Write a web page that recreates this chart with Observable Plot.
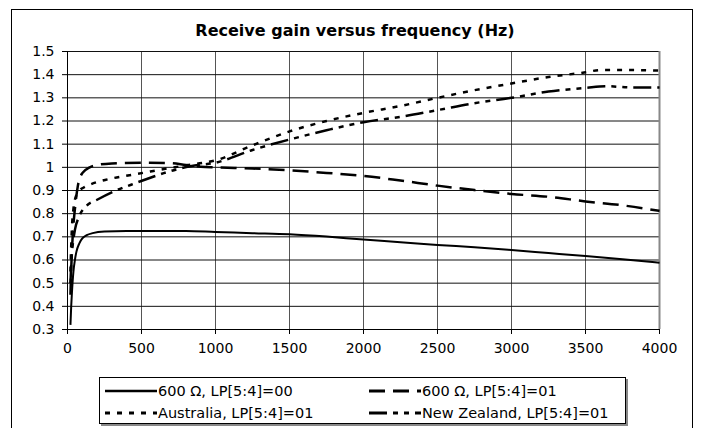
<!DOCTYPE html>
<html>
<head>
<meta charset="utf-8">
<script src="https://cdn.jsdelivr.net/npm/d3@7"></script>
<script src="https://cdn.jsdelivr.net/npm/@observablehq/plot@0.6"></script>
<style>
  html, body { margin: 0; padding: 0; background: #fff; }
  #wrap { position: relative; width: 702px; height: 428px; overflow: hidden; background: #fff; font-family: "DejaVu Sans", sans-serif; }
  #frame { position: absolute; left: 11px; top: 9px; width: 682px; height: 440px; border: 1px solid #000; box-sizing: border-box; }
  #title { position: absolute; left: 0; width: 710px; top: 21px; text-align: center; font-weight: bold; font-size: 16px; color: #000; }
  #chart { position: absolute; left: 0; top: 0; }
  #legend { position: absolute; left: 99px; top: 377px; width: 527px; height: 47px; border: 1px solid #000; box-sizing: border-box; background: #fff; box-shadow: 2px 2px 0 #888; font-size: 14.5px; color: #000; }
  .item { position: absolute; display: flex; align-items: center; height: 20px; white-space: nowrap; }
  .item svg { display: block; margin-right: 1px; }
</style>
</head>
<body>
<div id="wrap">
  <div id="frame"></div>
  <div id="chart"></div>
  <div id="title">Receive gain versus frequency (Hz)</div>
  <div id="legend"></div>
</div>
<script>
// ---- data ----
const seriesNames = ["600 Ω, LP[5:4]=00", "600 Ω, LP[5:4]=01", "Australia, LP[5:4]=01", "New Zealand, LP[5:4]=01"];

const freq600lp00 = [20, 25, 30, 40, 50, 60, 80, 100, 130, 170, 250, 400, 600, 800, 1000, 1250, 1500, 1750, 2000, 2250, 2500, 2750, 3000, 3250, 3500, 3750, 4000];
const gain600lp00 = [0.32, 0.40, 0.46, 0.55, 0.60, 0.635, 0.672, 0.693, 0.707, 0.716, 0.723, 0.725, 0.725, 0.725, 0.721, 0.716, 0.711, 0.701, 0.688, 0.677, 0.665, 0.655, 0.643, 0.63, 0.617, 0.603, 0.588];

const freq600lp01 = [20, 25, 30, 40, 50, 70, 100, 150, 200, 300, 500, 700, 800, 900, 1000, 1250, 1500, 1750, 2000, 2250, 2500, 2750, 3000, 3250, 3500, 3750, 4000];
const gain600lp01 = [0.45, 0.56, 0.64, 0.75, 0.82, 0.92, 0.975, 1.0, 1.01, 1.017, 1.02, 1.018, 1.01, 1.003, 1.0, 0.995, 0.987, 0.976, 0.963, 0.943, 0.921, 0.902, 0.885, 0.873, 0.853, 0.836, 0.812];

const freqAustralia = [20, 25, 30, 40, 50, 60, 80, 110, 150, 270, 440, 560, 700, 850, 1000, 1250, 1500, 1750, 2000, 2250, 2500, 2750, 3000, 3250, 3500, 3600, 3750, 4000];
const gainAustralia = [0.55, 0.66, 0.74, 0.82, 0.86, 0.88, 0.90, 0.913, 0.925, 0.948, 0.968, 0.982, 0.998, 1.013, 1.03, 1.095, 1.155, 1.2, 1.235, 1.265, 1.3, 1.333, 1.362, 1.39, 1.41, 1.42, 1.42, 1.418];

const freqNewZealand = [20, 25, 30, 40, 50, 80, 130, 200, 310, 430, 560, 650, 830, 1000, 1250, 1500, 1750, 2000, 2250, 2500, 2750, 3000, 3250, 3500, 3650, 3800, 4000];
const gainNewZealand = [0.5, 0.58, 0.63, 0.69, 0.73, 0.79, 0.835, 0.86, 0.895, 0.925, 0.955, 0.975, 1.005, 1.02, 1.075, 1.12, 1.16, 1.195, 1.218, 1.247, 1.277, 1.3, 1.327, 1.343, 1.35, 1.345, 1.345];

const xTicks = [0, 500, 1000, 1500, 2000, 2500, 3000, 3500, 4000];
const yTicks = [0.3, 0.4, 0.5, 0.6, 0.7, 0.8, 0.9, 1.0, 1.1, 1.2, 1.3, 1.4, 1.5];

// ---- styles ----
const styles = [
  {dash: null, width: 2},
  {dash: "16,8", width: 2.5},
  {dash: "5,7", width: 2.5},
  {dash: "18,6,5,6,5,6", width: 2.5}
];

const toRows = (fs, gs) => fs.map((f, i) => ({f, g: gs[i]}));
const tables = [
  toRows(freq600lp00, gain600lp00),
  toRows(freq600lp01, gain600lp01),
  toRows(freqAustralia, gainAustralia),
  toRows(freqNewZealand, gainNewZealand)
];

const fmtY = d => String(+d.toFixed(1));

const chart = Plot.plot({
  width: 702,
  height: 370,
  marginLeft: 67,
  marginRight: 43,
  marginTop: 51,
  marginBottom: 41,
  style: {fontFamily: "DejaVu Sans, sans-serif", fontSize: "14px", background: "transparent", color: "#000", overflow: "visible"},
  x: {domain: [0, 4000], ticks: xTicks, tickFormat: d => String(d), tickSize: 5, tickPadding: 9, label: null},
  y: {domain: [0.3, 1.5], ticks: yTicks, tickFormat: fmtY, tickSize: 5, tickPadding: 8, label: null},
  marks: [
    Plot.ruleX(xTicks.slice(1, -1), {stroke: "#555", strokeWidth: 1}),
    Plot.ruleY(yTicks.slice(1), {stroke: "#111", strokeWidth: 1}),
    Plot.ruleX([4000], {stroke: "#888", strokeWidth: 2}),
    Plot.ruleX([0], {stroke: "#000", strokeWidth: 1}),
    Plot.ruleY([0.3], {stroke: "#000", strokeWidth: 1}),
    ...tables.map((t, i) => Plot.line(t, {
      x: "f", y: "g", curve: "monotone-x",
      stroke: "#000", strokeWidth: styles[i].width,
      strokeDasharray: styles[i].dash || undefined,
      strokeLinecap: "butt"
    }))
  ]
});
document.getElementById("chart").appendChild(chart);

// ---- legend ----
const legend = document.getElementById("legend");
const pos = [
  {left: 5, top: 3},
  {left: 269, top: 3},
  {left: 5, top: 25},
  {left: 269, top: 25}
];
seriesNames.forEach((name, i) => {
  const item = document.createElement("div");
  item.className = "item";
  item.style.left = pos[i].left + "px";
  item.style.top = pos[i].top + "px";
  const svg = d3.create("svg").attr("width", 52).attr("height", 20);
  svg.append("line")
    .attr("x1", 0).attr("x2", 52).attr("y1", 10).attr("y2", 10)
    .attr("stroke", "#000")
    .attr("stroke-width", styles[i].width + 0.5)
    .attr("stroke-dasharray", styles[i].dash);
  item.appendChild(svg.node());
  const span = document.createElement("span");
  span.textContent = name;
  item.appendChild(span);
  legend.appendChild(item);
});
</script>
</body>
</html>
